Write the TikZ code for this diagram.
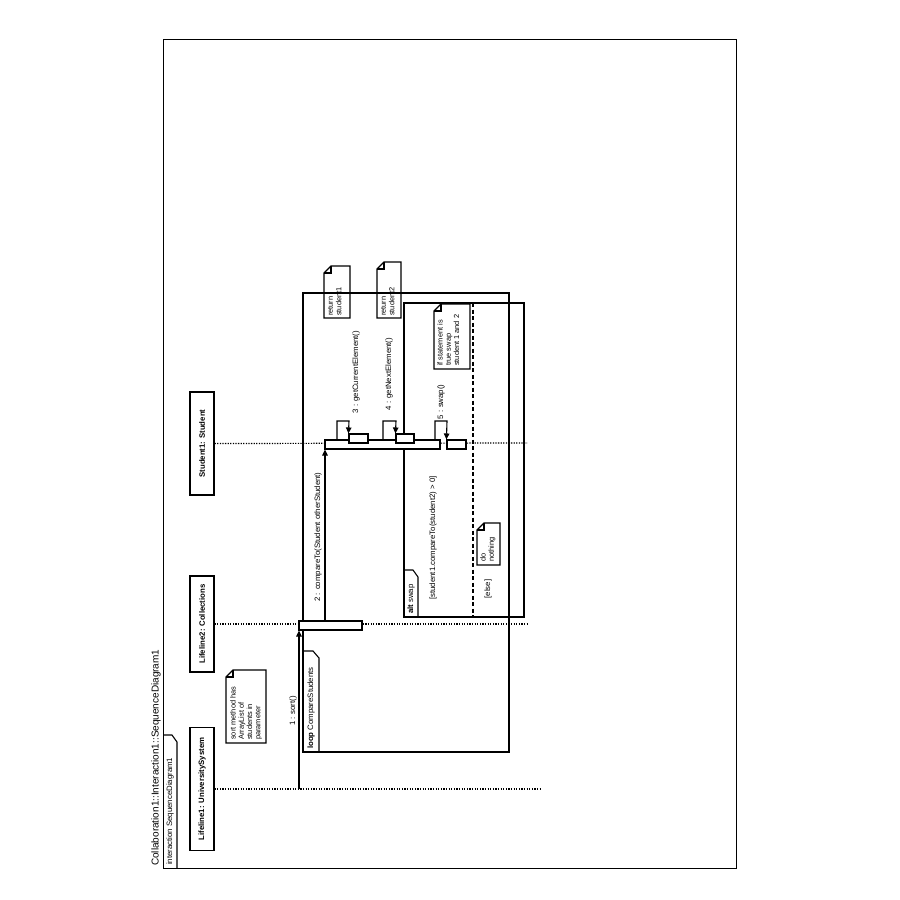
\documentclass[tikz,border=0pt]{standalone}
\usepackage{fontspec}
\setmainfont{Liberation Sans}
\usetikzlibrary{arrows.meta}
\newcommand{\umlnote}[4]{%
  \draw[ln] (#1,#2+7) -- (#1+7,#2) -- (#3,#2) -- (#3,#4) -- (#1,#4) -- cycle;
  \draw[ln] (#1,#2+7) -- (#1+7,#2+7) -- (#1+7,#2);
}
\begin{document}
\begin{tikzpicture}[x=1pt,y=-1pt,
  ln/.style={line width=1.1pt},
  lifebox/.style={draw, line width=1.1pt, rotate=90, minimum height=24, inner sep=0pt,
    font=\fontsize{7.8}{9}\selectfont\bfseries},
  act/.style={draw, line width=1.1pt, fill=white, inner sep=0pt, minimum height=9},
  lbl/.style={rotate=90, font=\fontsize{7.8}{9}\selectfont, inner sep=0pt},
  notetext/.style={rotate=90, font=\fontsize{7.4}{8.3}\selectfont, align=left, inner sep=0pt},
  lifeline/.style={line width=1.2pt, dash pattern=on 1.3pt off 1.3pt},
  sepline/.style={line width=1.2pt, dash pattern=on 4pt off 2.5pt},
  msg/.style={line width=1.1pt, -{Triangle[length=6pt,width=5.5pt]}},
]
\useasboundingbox (0,0) rectangle (900,900);

% outer frame and title
\draw[line width=1pt] (163,39) rectangle (736,868);
\node[lbl, anchor=west, font=\fontsize{10}{12}\selectfont] (title) at (156,866)
  {Collaboration1::Interaction1::SequenceDiagram1};
\draw[ln] (163,735) -- (172,735) -- (177,742) -- (177,868);
\node[lbl, anchor=west, font=\fontsize{7.8}{9}\selectfont] (frametitle) at (170,865)
  {interaction SequenceDiagram1};

% lifeline heads
\node[lifebox, minimum width=123] (L1) at (202,789) {Lifeline1: UniversitySystem};
\node[lifebox, minimum width=96]  (L2) at (202,624) {Lifeline2: Collections};
\node[lifebox, minimum width=103] (S)  at (202,443.5) {Student1: Student};

\coordinate (L1e) at (540,789);
\coordinate (L2e) at (527,624);
\coordinate (Se)  at (527,443);
\draw[lifeline] (L1.south) -- (L1e);
\draw[lifeline] (L2.south) -- (L2e);
\draw[lifeline] (S.south)  -- (Se);

% note: sort method
\umlnote{226}{670}{266}{743}
\node[notetext, anchor=north west] (nsort) at (230,740)
  {sort method has\\ArrayList of\\students in\\parameter};

% combined fragments
\draw[ln] (303,293) rectangle (509,752);
\draw[ln] (303,651) -- (313,651) -- (319,658) -- (319,752);
\node[lbl, anchor=west] (looptxt) at (311,749) {\textbf{loop} CompareStudents};

\draw[ln] (404,303) rectangle (524,617);
\draw[ln] (404,570) -- (413,570) -- (418,577) -- (418,617);
\node[lbl, anchor=west] (alttxt) at (411,614) {\textbf{alt} swap};
\coordinate (sepT) at (473,303);
\coordinate (sepB) at (473,617);
\draw[sepline] (sepT) -- (sepB);
\node[lbl] (g1) at (433,538) {[student1.compareTo(student2) > 0]};
\node[lbl] (g2) at (488,589) {[else]};

% notes
\umlnote{324}{266}{350}{318}
\node[notetext, anchor=north west] (nret1) at (328,316) {return\\student1};
\umlnote{377}{262}{401}{318}
\node[notetext, anchor=north west] (nret2) at (381,316) {return\\student2};
\umlnote{434}{304}{470}{369}
\node[notetext, anchor=north west] (nif) at (437,366) {if statement is\\true swap\\student 1 and 2};
\umlnote{477}{523}{500}{565}
\node[notetext, anchor=north west] (ndo) at (480,562) {do\\nothing};

% activations
\node[act, minimum width=63]  (A2) at (330.5,625.5) {};
\node[act, minimum width=115] (AS) at (382.5,444.5) {};
\node[act, minimum width=19]  (A3) at (358.5,438.5) {};
\node[act, minimum width=18]  (A4) at (405,438.5) {};
\node[act, minimum width=19]  (A5) at (456.5,444.5) {};

% message 1
\coordinate (m1) at (299,789);
\draw[msg] (m1) -- (m1 |- A2.south);
\node[lbl] (lm1) at (293,711) {1 : sort()};

% message 2
\coordinate (m2) at (325,621);
\draw[msg] (m2) -- (m2 |- AS.south);
\node[lbl] (lm2) at (318,537) {2 : compareTo(Student otherStudent)};

% message 3
\coordinate (s3a) at (337,440);
\coordinate (s3b) at (337,421);
\coordinate (s3c) at (349,421);
\draw[msg] (s3a) -- (s3b) -- (s3c) -- (A3.north west);
\node[lbl] (lm3) at (356,372) {3 : getCurrentElement()};

% message 4
\coordinate (s4a) at (383,440);
\coordinate (s4b) at (383,421);
\coordinate (s4c) at (396,421);
\draw[msg] (s4a) -- (s4b) -- (s4c) -- (A4.north west);
\node[lbl] (lm4) at (389,374) {4 : getNextElement()};

% message 5
\coordinate (s5a) at (435,440);
\coordinate (s5b) at (435,421);
\coordinate (s5c) at (447,421);
\draw[msg] (s5a) -- (s5b) -- (s5c) -- (A5.north west);
\node[lbl] (lm5) at (441,402) {5 : swap()};
\end{tikzpicture}
\end{document}
